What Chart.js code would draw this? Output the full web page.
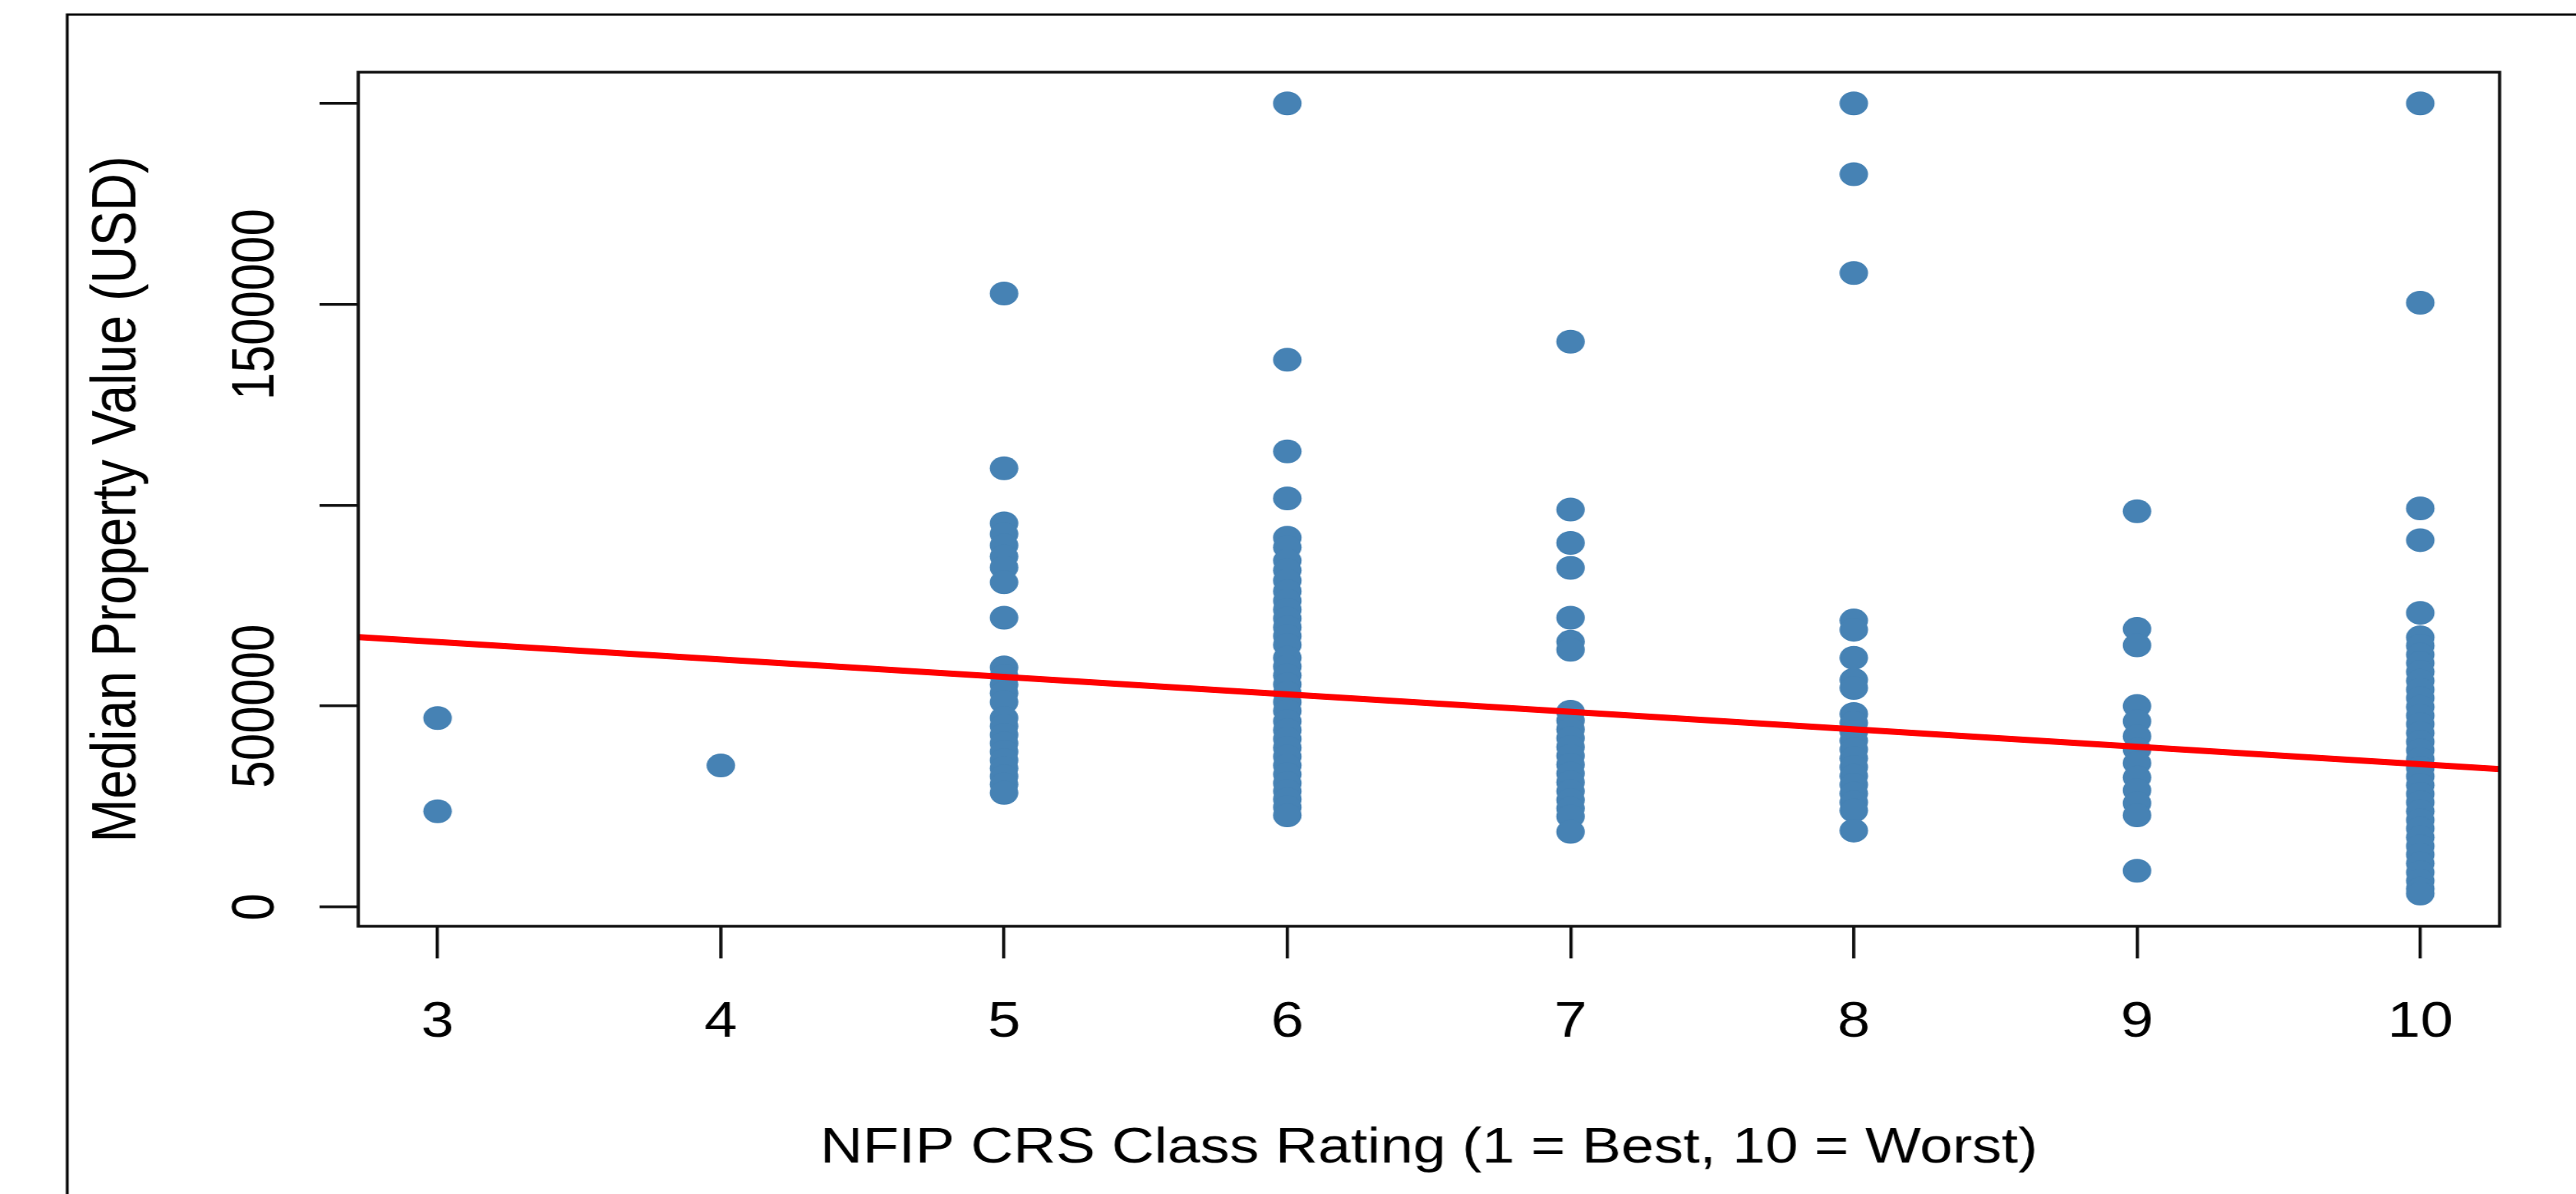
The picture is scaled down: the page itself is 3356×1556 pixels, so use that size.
<!DOCTYPE html>
<html>
<head>
<meta charset="utf-8">
<script src="https://cdn.jsdelivr.net/npm/chart.js@4.4.1/dist/chart.umd.min.js"></script>
<style>
  body { margin: 0; background: #fff; }
  canvas { display: block; }
</style>
</head>
<body>
<!-- drawn 2797 wide and stretched to 3356: the reference image is stretched sideways -->
<canvas id="crsChart" width="2797" height="1556" style="width:3356px;height:1556px"></canvas>
<script>
// NFIP CRS class on x, median property value (USD) on y
const crsClasses = [3, 4, 5, 6, 7, 8, 9, 10];

const class3 = [470000, 238000];
const class4 = [352000];
const class5 = [1527000, 1092000, 955000, 928000, 900000, 872000, 845000, 808000, 720000,
  596000, 575000, 553000, 532000, 510000, 470000, 450000, 428000, 407000, 386000, 365000,
  345000, 325000, 305000, 284000];
const class6 = [2000000, 1362000, 1134000, 1017000, 919000, 895000, 862000, 838000, 812000,
  786000, 762000, 740000, 718000, 696000, 674000, 652000, 620000, 598000, 576000, 554000,
  532000, 510000, 488000, 462000, 440000, 418000, 396000, 374000, 352000, 330000, 308000,
  288000, 268000, 248000, 228000];
const class7 = [1407000, 989000, 906000, 844000, 720000, 660000, 640000, 486000, 464000,
  442000, 420000, 398000, 376000, 354000, 332000, 310000, 288000, 266000, 245000, 225000, 187000];
const class8 = [2000000, 1824000, 1578000, 713000, 690000, 620000, 565000, 545000, 480000,
  458000, 436000, 414000, 392000, 370000, 348000, 326000, 304000, 282000, 260000, 240000, 190000];
const class9 = [985000, 692000, 651000, 500000, 462000, 425000, 392000, 358000, 322000,
  290000, 258000, 228000, 90000];
const class10 = [2000000, 1504000, 992000, 913000, 732000, 671000, 650000, 628000, 607000,
  585000, 563000, 541000, 520000, 498000, 476000, 455000, 433000, 411000, 390000, 368000,
  346000, 325000, 303000, 281000, 260000, 238000, 216000, 195000, 173000, 151000, 130000,
  108000, 86000, 65000, 45000, 33000];

// fitted regression line, at the two ends of the x range
const fitX = [2.72, 10.28];
const fitY = [671500, 343000];

const xTickValues = [3, 4, 5, 6, 7, 8, 9, 10];
const yTickValues = [0, 500000, 1000000, 1500000, 2000000];
const yTickLabels = ['0', '500000', '', '1500000', ''];

const xTitle = 'NFIP CRS Class Rating (1 = Best, 10 = Worst)';
const yTitle = 'Median Property Value (USD)';

const classValues = [class3, class4, class5, class6, class7, class8, class9, class10];
const points = crsClasses.flatMap((c, i) => classValues[i].map(v => ({ x: c, y: v })));
const fitLine = fitX.map((x, i) => ({ x: x, y: fitY[i] }));

const family = '"Liberation Sans", Arial, sans-serif';
const font = { family: family, size: 64 };

const framePlugin = {
  id: 'frame',
  beforeDraw(chart) {
    const ctx = chart.ctx;
    ctx.save();
    ctx.fillStyle = '#fff';
    ctx.fillRect(0, 0, chart.width, chart.height);
    ctx.strokeStyle = '#000';
    ctx.lineWidth = 3;
    ctx.beginPath();
    ctx.moveTo(73, chart.height);
    ctx.lineTo(73, 19);
    ctx.lineTo(chart.width, 19);
    ctx.stroke();
    ctx.restore();
  },
  afterDraw(chart) {
    const { ctx, chartArea: a } = chart;
    const y = chart.scales.y;
    ctx.save();
    ctx.strokeStyle = '#111';
    ctx.lineWidth = 3.5;
    ctx.strokeRect(a.left, a.top, a.right - a.left, a.bottom - a.top);
    // y tick labels run parallel to the axis, as R draws them
    ctx.fillStyle = '#000';
    ctx.font = '64px ' + family;
    ctx.textAlign = 'center';
    ctx.textBaseline = 'alphabetic';
    yTickValues.forEach((v, i) => {
      if (!yTickLabels[i]) return;
      ctx.save();
      ctx.translate(297, y.getPixelForValue(v));
      ctx.rotate(-Math.PI / 2);
      ctx.fillText(yTickLabels[i], 0, 0);
      ctx.restore();
    });
    ctx.restore();
  }
};

new Chart(document.getElementById('crsChart'), {
  type: 'scatter',
  data: {
    datasets: [{
      label: 'fit',
      data: fitLine,
      showLine: true,
      borderColor: '#ff0000',
      borderWidth: 8,
      pointRadius: 0,
      fill: false
    }, {
      label: 'communities',
      data: points,
      pointRadius: 15.5,
      pointBackgroundColor: '#4682b4',
      pointBorderColor: '#4682b4',
      pointBorderWidth: 0
    }]
  },
  options: {
    responsive: false,
    devicePixelRatio: 1,
    animation: false,
    layout: { padding: { left: 0, top: 94, right: 83, bottom: 0 } },
    plugins: {
      legend: { display: false },
      tooltip: { enabled: false }
    },
    scales: {
      x: {
        type: 'linear',
        min: 2.72,
        max: 10.28,
        afterBuildTicks: s => { s.ticks = xTickValues.map(v => ({ value: v })); },
        afterFit: s => { s.height = 349; },
        grid: { drawOnChartArea: false, tickLength: 42, color: '#111', lineWidth: 3.5 },
        border: { display: false },
        ticks: {
          font: font,
          color: '#000',
          padding: 46,
          maxRotation: 0,
          autoSkip: false,
          callback: v => String(v)
        },
        title: {
          display: true,
          text: xTitle,
          font: font,
          color: '#000',
          padding: { top: 0, bottom: 20 }
        }
      },
      y: {
        type: 'linear',
        min: -48000,
        max: 2078000,
        afterBuildTicks: s => { s.ticks = yTickValues.map(v => ({ value: v })); },
        afterFit: s => { s.width = 389; },
        grid: { drawOnChartArea: false, tickLength: 42, color: '#111', lineWidth: 3.5 },
        border: { display: false },
        ticks: { display: false },
        title: {
          display: true,
          text: yTitle,
          font: { family: family, size: 68 },
          color: '#000',
          padding: { top: 87, bottom: 0 }
        }
      }
    }
  },
  plugins: [framePlugin]
});
</script>
</body>
</html>
